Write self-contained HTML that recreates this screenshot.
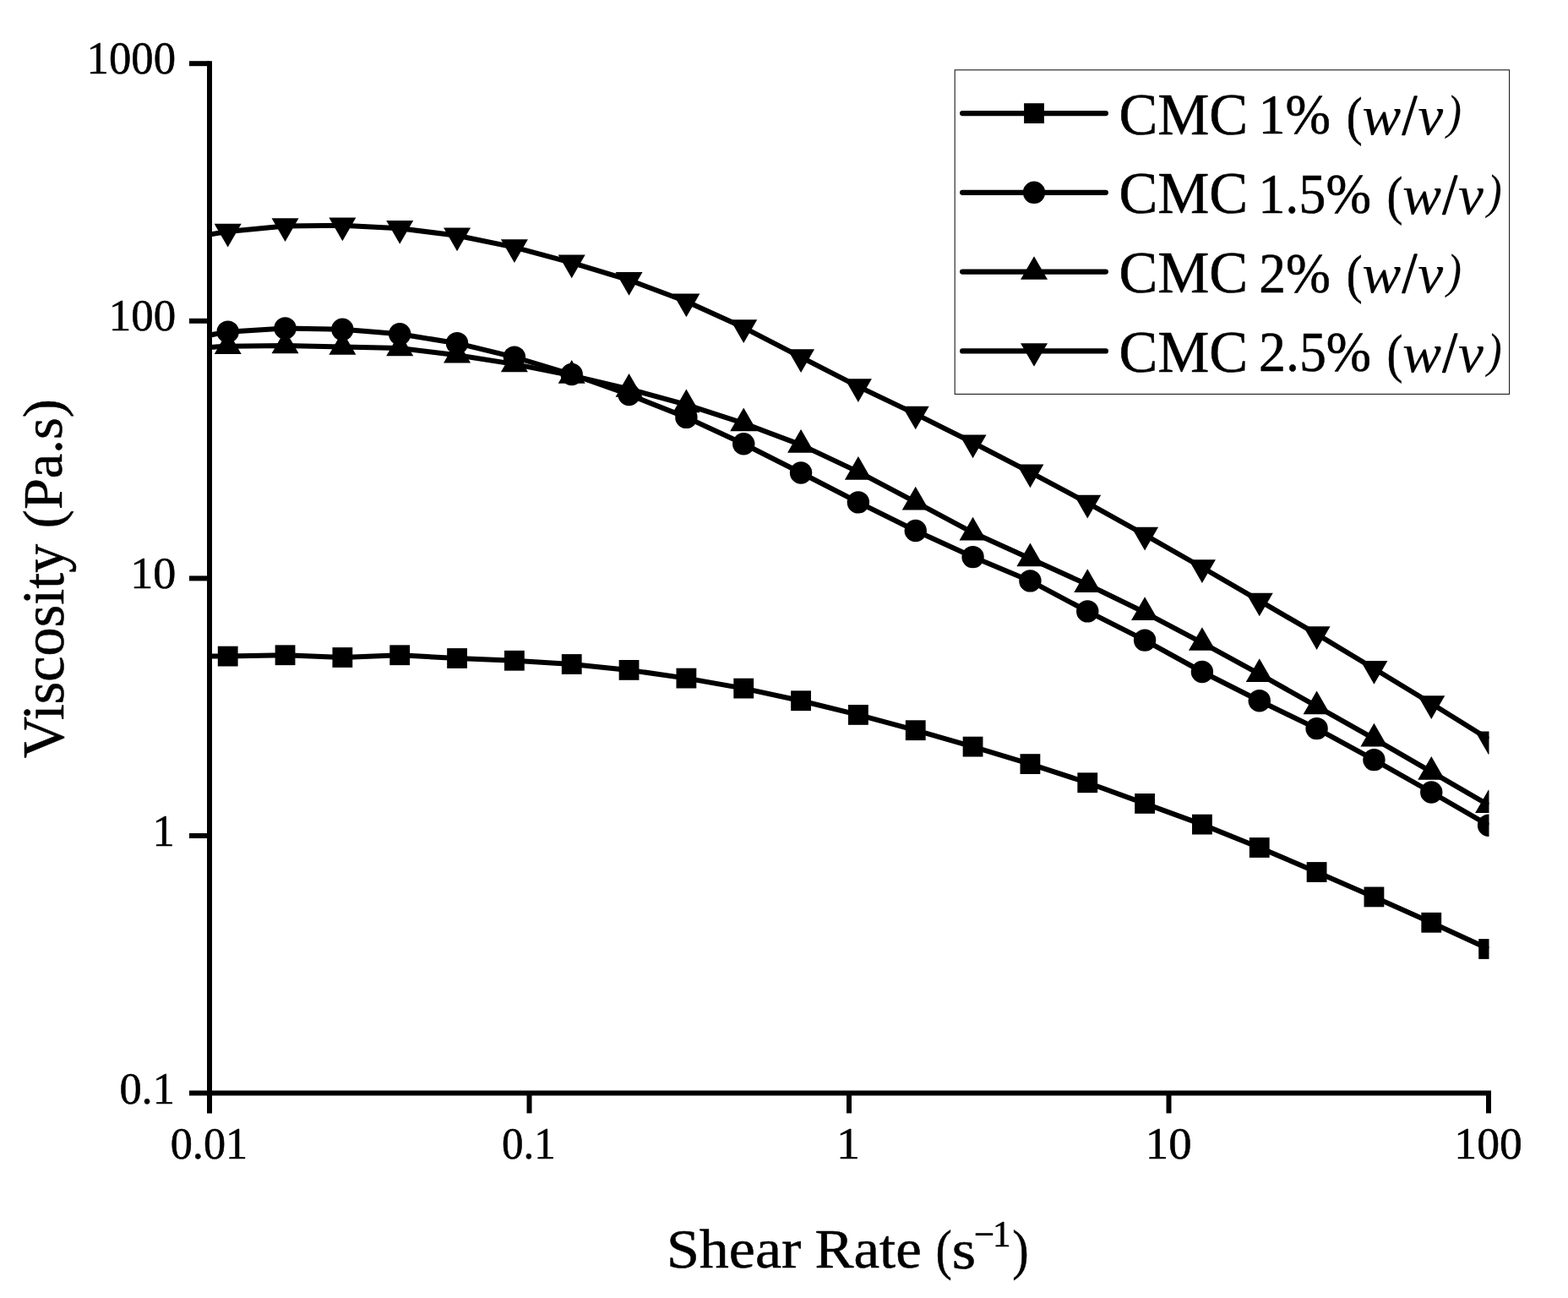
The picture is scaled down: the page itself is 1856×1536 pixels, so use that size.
<!DOCTYPE html>
<html lang="en"><head><meta charset="utf-8"><title>Viscosity vs Shear Rate</title>
<style>
html,body{margin:0;padding:0;background:#fff;}
body{width:1856px;height:1536px;overflow:hidden;}
svg{display:block;}
text{font-family:"Liberation Serif","DejaVu Serif",serif;fill:#000;stroke:#000;stroke-linejoin:round;}
</style></head><body>
<svg width="1856" height="1536" viewBox="0 0 1856 1536">
<rect width="1856" height="1536" fill="#fff"/>
<defs><clipPath id="plot"><rect x="248" y="60" width="1514.5" height="1240"/></clipPath></defs>

<g clip-path="url(#plot)" fill="#000" stroke="none">
<polyline points="238.00,776.60 269.70,776.60 337.54,775.25 405.37,778.00 473.21,775.25 541.05,779.00 608.88,781.75 676.72,786.00 744.55,792.90 812.39,802.60 880.23,814.60 948.06,829.25 1015.90,845.90 1083.74,864.20 1151.57,883.60 1219.41,904.10 1287.25,926.25 1355.08,950.90 1422.92,975.60 1490.75,1003.00 1558.59,1032.00 1626.43,1061.40 1694.26,1091.75 1762.10,1123.00" fill="none" stroke="#000" stroke-width="6.0" stroke-linejoin="round"/>
<rect x="257.80" y="764.70" width="23.8" height="23.8"/><rect x="325.64" y="763.35" width="23.8" height="23.8"/><rect x="393.47" y="766.10" width="23.8" height="23.8"/><rect x="461.31" y="763.35" width="23.8" height="23.8"/><rect x="529.15" y="767.10" width="23.8" height="23.8"/><rect x="596.98" y="769.85" width="23.8" height="23.8"/><rect x="664.82" y="774.10" width="23.8" height="23.8"/><rect x="732.65" y="781.00" width="23.8" height="23.8"/><rect x="800.49" y="790.70" width="23.8" height="23.8"/><rect x="868.33" y="802.70" width="23.8" height="23.8"/><rect x="936.16" y="817.35" width="23.8" height="23.8"/><rect x="1004.00" y="834.00" width="23.8" height="23.8"/><rect x="1071.84" y="852.30" width="23.8" height="23.8"/><rect x="1139.67" y="871.70" width="23.8" height="23.8"/><rect x="1207.51" y="892.20" width="23.8" height="23.8"/><rect x="1275.35" y="914.35" width="23.8" height="23.8"/><rect x="1343.18" y="939.00" width="23.8" height="23.8"/><rect x="1411.02" y="963.70" width="23.8" height="23.8"/><rect x="1478.85" y="991.10" width="23.8" height="23.8"/><rect x="1546.69" y="1020.10" width="23.8" height="23.8"/><rect x="1614.53" y="1049.50" width="23.8" height="23.8"/><rect x="1682.36" y="1079.85" width="23.8" height="23.8"/><rect x="1750.20" y="1111.10" width="23.8" height="23.8"/>
<polyline points="238.00,398.40 269.70,392.70 337.54,388.40 405.37,389.80 473.21,395.30 541.05,406.20 608.88,422.60 676.72,443.00 744.55,467.00 812.39,493.90 880.23,525.25 948.06,559.50 1015.90,594.40 1083.74,628.00 1151.57,659.10 1219.41,687.40 1287.25,723.40 1355.08,757.60 1422.92,795.00 1490.75,829.20 1558.59,862.10 1626.43,899.10 1694.26,937.50 1762.10,976.70" fill="none" stroke="#000" stroke-width="6.0" stroke-linejoin="round"/>
<circle cx="269.70" cy="392.70" r="13.2"/><circle cx="337.54" cy="388.40" r="13.2"/><circle cx="405.37" cy="389.80" r="13.2"/><circle cx="473.21" cy="395.30" r="13.2"/><circle cx="541.05" cy="406.20" r="13.2"/><circle cx="608.88" cy="422.60" r="13.2"/><circle cx="676.72" cy="443.00" r="13.2"/><circle cx="744.55" cy="467.00" r="13.2"/><circle cx="812.39" cy="493.90" r="13.2"/><circle cx="880.23" cy="525.25" r="13.2"/><circle cx="948.06" cy="559.50" r="13.2"/><circle cx="1015.90" cy="594.40" r="13.2"/><circle cx="1083.74" cy="628.00" r="13.2"/><circle cx="1151.57" cy="659.10" r="13.2"/><circle cx="1219.41" cy="687.40" r="13.2"/><circle cx="1287.25" cy="723.40" r="13.2"/><circle cx="1355.08" cy="757.60" r="13.2"/><circle cx="1422.92" cy="795.00" r="13.2"/><circle cx="1490.75" cy="829.20" r="13.2"/><circle cx="1558.59" cy="862.10" r="13.2"/><circle cx="1626.43" cy="899.10" r="13.2"/><circle cx="1694.26" cy="937.50" r="13.2"/><circle cx="1762.10" cy="976.70" r="13.2"/>
<polyline points="238.00,411.45 269.70,409.70 337.54,408.90 405.37,410.40 473.21,411.90 541.05,420.20 608.88,430.90 676.72,444.40 744.55,460.40 812.39,478.90 880.23,500.90 948.06,526.40 1015.90,558.40 1083.74,594.15 1151.57,630.30 1219.41,660.90 1287.25,691.80 1355.08,724.80 1422.92,760.60 1490.75,797.70 1558.59,835.90 1626.43,874.15 1694.26,913.40 1762.10,952.65" fill="none" stroke="#000" stroke-width="6.0" stroke-linejoin="round"/>
<polygon points="269.70,391.23 285.70,418.93 253.70,418.93"/><polygon points="337.54,390.43 353.54,418.13 321.54,418.13"/><polygon points="405.37,391.93 421.37,419.63 389.37,419.63"/><polygon points="473.21,393.43 489.21,421.13 457.21,421.13"/><polygon points="541.05,401.73 557.05,429.43 525.05,429.43"/><polygon points="608.88,412.43 624.88,440.13 592.88,440.13"/><polygon points="676.72,425.93 692.72,453.63 660.72,453.63"/><polygon points="744.55,441.93 760.55,469.63 728.55,469.63"/><polygon points="812.39,460.43 828.39,488.13 796.39,488.13"/><polygon points="880.23,482.43 896.23,510.13 864.23,510.13"/><polygon points="948.06,507.93 964.06,535.63 932.06,535.63"/><polygon points="1015.90,539.93 1031.90,567.63 999.90,567.63"/><polygon points="1083.74,575.68 1099.74,603.38 1067.74,603.38"/><polygon points="1151.57,611.83 1167.57,639.53 1135.57,639.53"/><polygon points="1219.41,642.43 1235.41,670.13 1203.41,670.13"/><polygon points="1287.25,673.33 1303.25,701.03 1271.25,701.03"/><polygon points="1355.08,706.33 1371.08,734.03 1339.08,734.03"/><polygon points="1422.92,742.13 1438.92,769.83 1406.92,769.83"/><polygon points="1490.75,779.23 1506.75,806.93 1474.75,806.93"/><polygon points="1558.59,817.43 1574.59,845.13 1542.59,845.13"/><polygon points="1626.43,855.68 1642.43,883.38 1610.43,883.38"/><polygon points="1694.26,894.93 1710.26,922.63 1678.26,922.63"/><polygon points="1762.10,934.18 1778.10,961.88 1746.10,961.88"/>
<polyline points="238.00,279.07 269.70,274.10 337.54,267.50 405.37,266.80 473.21,270.30 541.05,278.70 608.88,292.60 676.72,310.80 744.55,331.30 812.39,356.80 880.23,387.60 948.06,422.60 1015.90,457.45 1083.74,489.90 1151.57,523.80 1219.41,558.80 1287.25,595.10 1355.08,632.95 1422.92,671.50 1490.75,710.90 1558.59,750.45 1626.43,791.20 1694.26,832.45 1762.10,874.70" fill="none" stroke="#000" stroke-width="6.0" stroke-linejoin="round"/>
<polygon points="269.70,292.57 285.70,264.87 253.70,264.87"/><polygon points="337.54,285.97 353.54,258.27 321.54,258.27"/><polygon points="405.37,285.27 421.37,257.57 389.37,257.57"/><polygon points="473.21,288.77 489.21,261.07 457.21,261.07"/><polygon points="541.05,297.17 557.05,269.47 525.05,269.47"/><polygon points="608.88,311.07 624.88,283.37 592.88,283.37"/><polygon points="676.72,329.27 692.72,301.57 660.72,301.57"/><polygon points="744.55,349.77 760.55,322.07 728.55,322.07"/><polygon points="812.39,375.27 828.39,347.57 796.39,347.57"/><polygon points="880.23,406.07 896.23,378.37 864.23,378.37"/><polygon points="948.06,441.07 964.06,413.37 932.06,413.37"/><polygon points="1015.90,475.92 1031.90,448.22 999.90,448.22"/><polygon points="1083.74,508.37 1099.74,480.67 1067.74,480.67"/><polygon points="1151.57,542.27 1167.57,514.57 1135.57,514.57"/><polygon points="1219.41,577.27 1235.41,549.57 1203.41,549.57"/><polygon points="1287.25,613.57 1303.25,585.87 1271.25,585.87"/><polygon points="1355.08,651.42 1371.08,623.72 1339.08,623.72"/><polygon points="1422.92,689.97 1438.92,662.27 1406.92,662.27"/><polygon points="1490.75,729.37 1506.75,701.67 1474.75,701.67"/><polygon points="1558.59,768.92 1574.59,741.22 1542.59,741.22"/><polygon points="1626.43,809.67 1642.43,781.97 1610.43,781.97"/><polygon points="1694.26,850.92 1710.26,823.22 1678.26,823.22"/><polygon points="1762.10,893.17 1778.10,865.47 1746.10,865.47"/>
</g>
<g stroke="#000" stroke-width="6.0" fill="none" stroke-linecap="butt">
<line x1="248.0" y1="72.2" x2="248.0" y2="1317.4"/>
<line x1="224" y1="1293.6" x2="1765.0" y2="1293.6"/>
<line x1="224" y1="75.20" x2="248.0" y2="75.20"/>
<line x1="224" y1="379.80" x2="248.0" y2="379.80"/>
<line x1="224" y1="684.40" x2="248.0" y2="684.40"/>
<line x1="224" y1="989.00" x2="248.0" y2="989.00"/>
<line x1="626.50" y1="1293.6" x2="626.50" y2="1317.4"/>
<line x1="1005.00" y1="1293.6" x2="1005.00" y2="1317.4"/>
<line x1="1383.50" y1="1293.6" x2="1383.50" y2="1317.4"/>
<line x1="1762.00" y1="1293.6" x2="1762.00" y2="1317.4"/>
</g>
<g>
<text transform="translate(102.55,86.53) scale(1.0546,1.0806)" font-size="50" stroke-width="0.5">1000</text>
<text transform="translate(128.83,390.63) scale(1.0585,1.0687)" font-size="50" stroke-width="0.5">100</text>
<text transform="translate(154.13,695.73) scale(1.0825,1.0657)" font-size="50" stroke-width="0.5">10</text>
<text transform="translate(180.58,1000.73) scale(1.0483,1.0746)" font-size="50" stroke-width="0.5">1</text>
<text transform="translate(141.39,1305.93) scale(1.0495,1.0716)" font-size="50" stroke-width="0.5">0.1</text>
<text transform="translate(201.70,1370.73) scale(1.0454,1.0687)" font-size="50" stroke-width="0.5">0.01</text>
<text transform="translate(593.94,1370.73) scale(1.0219,1.0687)" font-size="50" stroke-width="0.5">0.1</text>
<text transform="translate(990.08,1370.73) scale(1.1200,1.0687)" font-size="50" stroke-width="0.5">1</text>
<text transform="translate(1355.78,1370.73) scale(1.0949,1.0687)" font-size="50" stroke-width="0.5">10</text>
<text transform="translate(1721.33,1370.73) scale(1.0722,1.0687)" font-size="50" stroke-width="0.5">100</text>
</g>
<g>
<text><tspan x="788.95" y="1500.28" font-size="66.08" textLength="159.36" lengthAdjust="spacingAndGlyphs" stroke-width="0.53">Shear</tspan> <tspan x="964.58" y="1500.28" font-size="66.14" textLength="126.17" lengthAdjust="spacingAndGlyphs" stroke-width="0.53">Rate</tspan> <tspan x="1107.56" y="1500.90" font-size="64.68" textLength="19.33" lengthAdjust="spacingAndGlyphs" stroke-width="0.48">(</tspan><tspan x="1126.87" y="1500.70" font-size="64.57" textLength="28.31" lengthAdjust="spacingAndGlyphs" stroke-width="0.54">s</tspan><tspan x="1152.60" y="1480.43" font-size="58.00" textLength="24.86" lengthAdjust="spacingAndGlyphs" stroke-width="0.00">−</tspan><tspan x="1174.89" y="1474.73" font-size="44.95" textLength="21.54" lengthAdjust="spacingAndGlyphs" stroke-width="0.52">1</tspan><tspan x="1198.23" y="1500.90" font-size="64.68" textLength="19.45" lengthAdjust="spacingAndGlyphs" stroke-width="0.48">)</tspan></text>
<text transform="rotate(-90)"><tspan x="-897.32" y="74.84" font-size="69.27" textLength="253.55" lengthAdjust="spacingAndGlyphs" stroke-width="0.54">Viscosity</tspan> <tspan x="-625.16" y="72.83" font-size="64.57" textLength="153.04" lengthAdjust="spacingAndGlyphs" stroke-width="0.51">(Pa.s)</tspan></text>
</g>
<g>
<rect x="1130.2" y="82.8" width="656.4" height="383.6" fill="#fff" stroke="#1a1a1a" stroke-width="1.1"/>
<line x1="1139.2" y1="134.1" x2="1308.8" y2="134.1" stroke="#000" stroke-width="6.3" stroke-linecap="round"/>
<line x1="1139.2" y1="227.8" x2="1308.8" y2="227.8" stroke="#000" stroke-width="6.3" stroke-linecap="round"/>
<line x1="1139.2" y1="321.6" x2="1308.8" y2="321.6" stroke="#000" stroke-width="6.3" stroke-linecap="round"/>
<line x1="1139.2" y1="415.4" x2="1308.8" y2="415.4" stroke="#000" stroke-width="6.3" stroke-linecap="round"/>
<rect x="1212.10" y="122.20" width="23.8" height="23.8"/>
<circle cx="1224.00" cy="227.80" r="13.2"/>
<polygon points="1224.00,303.13 1240.00,330.83 1208.00,330.83"/>
<polygon points="1224.00,433.87 1240.00,406.17 1208.00,406.17"/>
<text><tspan x="1324.43" y="158.64" font-size="68.77" textLength="152.72" lengthAdjust="spacingAndGlyphs" stroke-width="0.55">CMC</tspan> <tspan x="1489.44" y="158.03" font-size="66.91" textLength="85.62" lengthAdjust="spacingAndGlyphs" stroke-width="0.53">1%</tspan> <tspan x="1593.71" y="158.85" font-size="64.44" textLength="18.93" lengthAdjust="spacingAndGlyphs" stroke-width="0.49">(</tspan><tspan x="1612.33" y="158.79" font-size="66.16" textLength="46.10" lengthAdjust="spacingAndGlyphs" stroke-width="0.11" font-style="italic">w</tspan><tspan x="1659.71" y="157.73" font-size="66.95" textLength="17.50" lengthAdjust="spacingAndGlyphs" stroke-width="1.26">/</tspan><tspan x="1678.31" y="158.79" font-size="66.16" textLength="29.96" lengthAdjust="spacingAndGlyphs" stroke-width="0.11" font-style="italic">v</tspan><tspan x="1712.69" y="152.41" font-size="57.64" textLength="17.14" lengthAdjust="spacingAndGlyphs" stroke-width="0.09" font-style="italic">)</tspan></text>
<text><tspan x="1324.43" y="252.44" font-size="68.77" textLength="152.72" lengthAdjust="spacingAndGlyphs" stroke-width="0.55">CMC</tspan> <tspan x="1489.13" y="251.83" font-size="66.91" textLength="133.93" lengthAdjust="spacingAndGlyphs" stroke-width="0.53">1.5%</tspan> <tspan x="1641.51" y="252.65" font-size="64.44" textLength="18.93" lengthAdjust="spacingAndGlyphs" stroke-width="0.49">(</tspan><tspan x="1660.13" y="252.59" font-size="66.16" textLength="46.10" lengthAdjust="spacingAndGlyphs" stroke-width="0.11" font-style="italic">w</tspan><tspan x="1707.51" y="251.53" font-size="66.95" textLength="17.50" lengthAdjust="spacingAndGlyphs" stroke-width="1.26">/</tspan><tspan x="1726.11" y="252.59" font-size="66.16" textLength="29.96" lengthAdjust="spacingAndGlyphs" stroke-width="0.11" font-style="italic">v</tspan><tspan x="1760.49" y="246.21" font-size="57.64" textLength="17.14" lengthAdjust="spacingAndGlyphs" stroke-width="0.09" font-style="italic">)</tspan></text>
<text><tspan x="1324.43" y="346.24" font-size="68.77" textLength="152.72" lengthAdjust="spacingAndGlyphs" stroke-width="0.55">CMC</tspan> <tspan x="1490.36" y="345.63" font-size="66.91" textLength="84.68" lengthAdjust="spacingAndGlyphs" stroke-width="0.53">2%</tspan> <tspan x="1593.71" y="346.45" font-size="64.44" textLength="18.93" lengthAdjust="spacingAndGlyphs" stroke-width="0.49">(</tspan><tspan x="1612.33" y="346.39" font-size="66.16" textLength="46.10" lengthAdjust="spacingAndGlyphs" stroke-width="0.11" font-style="italic">w</tspan><tspan x="1659.71" y="345.33" font-size="66.95" textLength="17.50" lengthAdjust="spacingAndGlyphs" stroke-width="1.26">/</tspan><tspan x="1678.31" y="346.39" font-size="66.16" textLength="29.96" lengthAdjust="spacingAndGlyphs" stroke-width="0.11" font-style="italic">v</tspan><tspan x="1712.69" y="340.01" font-size="57.64" textLength="17.14" lengthAdjust="spacingAndGlyphs" stroke-width="0.09" font-style="italic">)</tspan></text>
<text><tspan x="1324.43" y="440.04" font-size="68.77" textLength="152.72" lengthAdjust="spacingAndGlyphs" stroke-width="0.55">CMC</tspan> <tspan x="1490.04" y="439.43" font-size="66.91" textLength="133.01" lengthAdjust="spacingAndGlyphs" stroke-width="0.53">2.5%</tspan> <tspan x="1641.51" y="440.25" font-size="64.44" textLength="18.93" lengthAdjust="spacingAndGlyphs" stroke-width="0.49">(</tspan><tspan x="1660.13" y="440.19" font-size="66.16" textLength="46.10" lengthAdjust="spacingAndGlyphs" stroke-width="0.11" font-style="italic">w</tspan><tspan x="1707.51" y="439.13" font-size="66.95" textLength="17.50" lengthAdjust="spacingAndGlyphs" stroke-width="1.26">/</tspan><tspan x="1726.11" y="440.19" font-size="66.16" textLength="29.96" lengthAdjust="spacingAndGlyphs" stroke-width="0.11" font-style="italic">v</tspan><tspan x="1760.49" y="433.81" font-size="57.64" textLength="17.14" lengthAdjust="spacingAndGlyphs" stroke-width="0.09" font-style="italic">)</tspan></text>
</g>
</svg></body></html>
